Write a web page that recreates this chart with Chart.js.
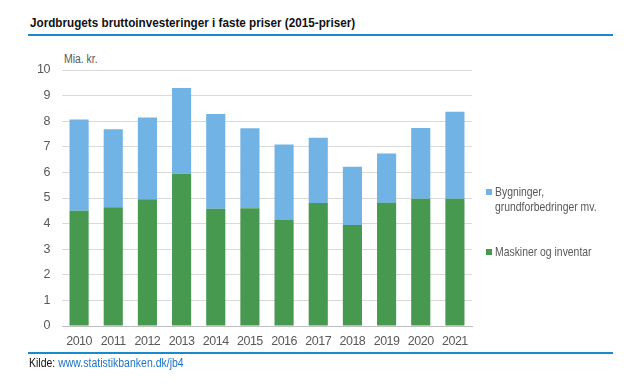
<!DOCTYPE html>
<html>
<head>
<meta charset="utf-8">
<script src="https://cdn.jsdelivr.net/npm/chart.js@4.4.0/dist/chart.umd.min.js"></script>
<style>
  body { margin: 0; background: #fff; font-family: "Liberation Sans", Arial, sans-serif; }
  #wrap { position: relative; width: 640px; height: 384px; overflow: hidden; }
  .narrow { transform-origin: left center; white-space: nowrap; }
  #title { position: absolute; left: 30px; top: 15px; font-size: 13px; line-height: 16px; font-weight: bold; color: #111; transform: scaleX(0.9); }
  .rule { position: absolute; left: 28px; width: 585px; height: 2px; background: #1b8acb; }
  #unit { position: absolute; left: 64px; top: 52px; font-size: 12px; line-height: 14px; color: #595959; transform: scaleX(0.87); }
  #source { position: absolute; left: 29px; top: 356px; font-size: 12px; line-height: 14px; color: #111; transform: scaleX(0.875); }
  #source span { color: #1f74c2; }
  #legend { position: absolute; left: 486px; top: 184px; font-size: 13px; color: #595959; line-height: 15px; }
  .item { position: relative; padding-left: 9px; margin-bottom: 30px; }
  .item .txt { display: inline-block; transform: scaleX(0.8); transform-origin: left center; white-space: nowrap; }
  .box { position: absolute; left: 0; top: 5px; width: 6px; height: 6px; }
  canvas { position: absolute; left: 0; top: 0; }
</style>
</head>
<body>
<div id="wrap">
  <div id="title" class="narrow">Jordbrugets bruttoinvesteringer i faste priser (2015-priser)</div>
  <div class="rule" style="top:34px"></div>
  <div id="unit" class="narrow">Mia. kr.</div>
  <canvas id="chart" width="640" height="384"></canvas>
  <div id="legend"></div>
  <div class="rule" style="top:352px"></div>
  <div id="source" class="narrow">Kilde: <span>www.statistikbanken.dk/jb4</span></div>
</div>
<script>
// Data (mia. kr.)
const years = ['2010', '2011', '2012', '2013', '2014', '2015', '2016', '2017', '2018', '2019', '2020', '2021'];
const maskiner = [4.50, 4.64, 4.95, 5.95, 4.58, 4.60, 4.16, 4.80, 3.95, 4.81, 4.97, 4.97];
const bygninger = [3.57, 3.05, 3.19, 3.35, 3.70, 3.12, 2.93, 2.55, 2.27, 1.93, 2.76, 3.40];
const yTicks = [0, 1, 2, 3, 4, 5, 6, 7, 8, 9, 10];

const green = '#479950';
const blue = '#72b3e5';
const tickFont = { family: '"Liberation Sans", Arial', size: 12.5 };

// lidt tættere skrift på akserne
const tightText = {
    id: 'tightText',
    beforeDraw: function(chart) { chart.ctx.letterSpacing = '-0.5px'; }
};

const ctx = document.getElementById('chart').getContext('2d');
const chart = new Chart(ctx, {
    type: 'bar',
    data: {
        labels: years,
        datasets: [{
            label: 'Maskiner og inventar',
            data: maskiner,
            backgroundColor: green,
            barPercentage: 0.56,
            categoryPercentage: 1
        }, {
            label: 'Bygninger,\ngrundforbedringer mv.',
            data: bygninger,
            backgroundColor: blue,
            barPercentage: 0.56,
            categoryPercentage: 1
        }]
    },
    options: {
        responsive: false,
        animation: false,
        layout: { padding: { left: 0, right: 168, top: 70, bottom: 0 } },
        plugins: {
            legend: { display: false },
            tooltip: { enabled: false }
        },
        scales: {
            x: {
                stacked: true,
                grid: { display: false, drawTicks: false },
                border: { color: '#bfbfbf' },
                ticks: { color: '#595959', font: tickFont, padding: 8, maxRotation: 0 },
                afterFit: function(scale) { scale.height = 58; }
            },
            y: {
                stacked: true,
                min: 0,
                max: 10,
                afterBuildTicks: function(scale) {
                    scale.ticks = yTicks.map(v => ({ value: v }));
                },
                grid: { color: '#d9d9d9', drawTicks: false },
                border: { display: false },
                ticks: { color: '#595959', font: tickFont, padding: 12 },
                afterFit: function(scale) { scale.width = 62; }
            }
        }
    },
    plugins: [tightText]
});

// Forklaring til højre, bygninger øverst
const legend = document.getElementById('legend');
[1, 0].forEach(i => {
    const ds = chart.data.datasets[i];
    const item = document.createElement('div');
    item.className = 'item';
    item.innerHTML = '<div class="box" style="background:' + ds.backgroundColor + '"></div>' +
        '<span class="txt">' + ds.label.replace('\n', '<br>') + '</span>';
    legend.appendChild(item);
});
</script>
</body>
</html>
